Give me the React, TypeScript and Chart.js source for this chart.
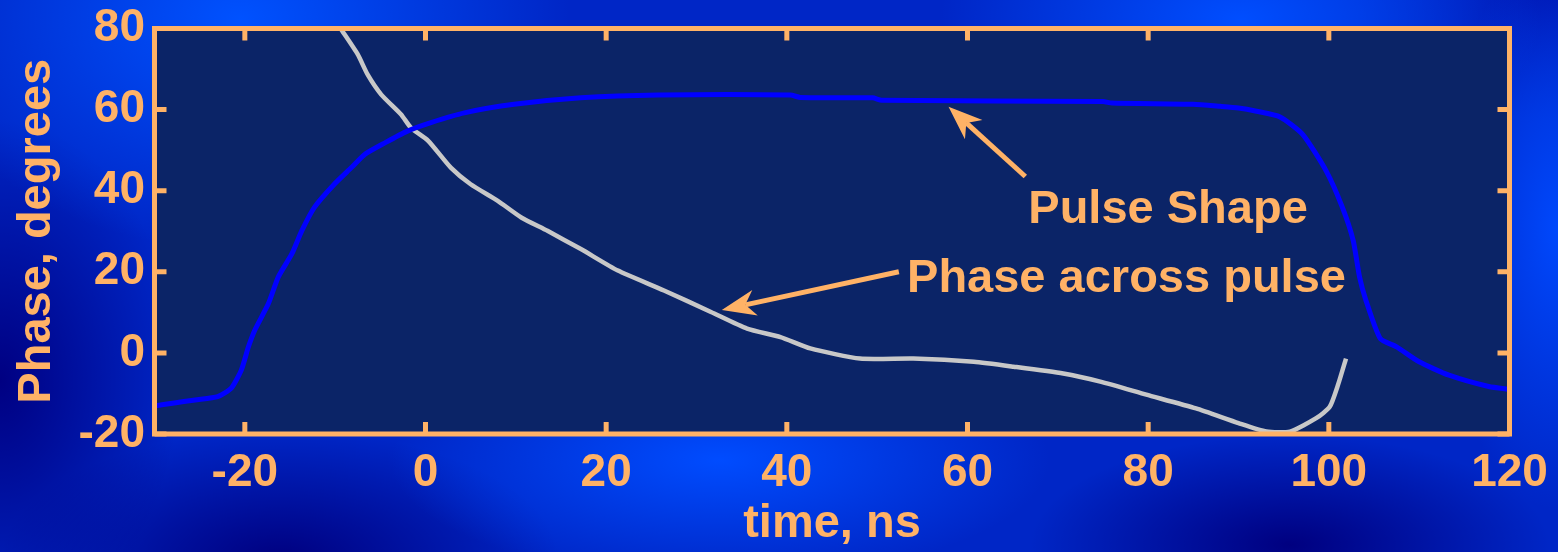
import React, { useEffect, useRef } from "react";
import { Chart, registerables } from "chart.js";

Chart.register(...registerables);

// ---- data ----
const pulseTime = [-30, -28, -25.5, -23, -21.5, -20.4, -19.6, -18.9, -17.4, -16.3, -14.8, -13.7, -12.3, -10.1, -8.2, -6.7, -4.5, -2, 0.6, 4.3, 9.8, 17.2, 25.7, 40.4, 41.5, 49.5, 50.5, 75, 76, 85, 88, 90, 92, 94.6, 97.1, 99.7, 101.5, 102.7, 103.4, 104.1, 105.7, 107.5, 110, 113.3, 117.7, 120];
const pulseValue = [-13.1, -12.4, -11.6, -10.8, -8.7, -4.3, 1.5, 5.6, 12.1, 18.7, 24.4, 30.1, 35.9, 41.6, 45.7, 49, 51.8, 54.7, 56.8, 59.2, 61.3, 62.9, 63.6, 63.6, 63.0, 62.9, 62.3, 62.0, 61.6, 61.3, 60.8, 60.4, 59.6, 58.2, 53.9, 44.9, 35.9, 27.7, 18.7, 13, 3.5, 1.5, -2.2, -5.5, -8.3, -9];

const phaseTime = [-9.4, -7.5, -6.4, -4.9, -2.7, -1.6, 0.3, 2.8, 5, 8, 10.6, 13.5, 17.2, 21.3, 26.4, 31.6, 35.6, 39.3, 42.6, 48.1, 54, 60.7, 65.1, 70.6, 74.7, 79.8, 85.3, 90, 93.1, 95.7, 98.6, 100.1, 101, 101.9];
const phaseValue = [80, 73.6, 68.6, 63.7, 58.8, 55.5, 52.3, 45.7, 41.6, 37.5, 33.4, 30.1, 25.6, 20.3, 15.4, 10.1, 6, 3.9, 1.1, -1.4, -1.4, -2.2, -3.4, -5.1, -7.1, -10.3, -13.7, -17.3, -19.4, -19.4, -16.1, -13.3, -8, -1.4];

const xTickValues = [-20, 0, 20, 40, 60, 80, 100, 120];
const yTickValues = [-20, 0, 20, 40, 60, 80];

const xTitle = "time, ns";
const yTitle = "Phase, degrees";
const pulseLabel = "Pulse Shape";
const phaseLabel = "Phase across pulse";

// ---- styles ----
const ORANGE = "#FFB266";
const PLOT_BG = "#0B2467";
const FONT = "'Liberation Sans', Arial, Helvetica, sans-serif";

// annotation anchors in data coordinates
const annotations = [
  { text: pulseLabel, textX: 82.2, textY: 32.0, tailX: 66.4, tailY: 43.5, tipX: 57.9, tipY: 60.7 },
  { text: phaseLabel, textX: 77.6, textY: 15.1, tailX: 52.4, tailY: 20.0, tipX: 32.8, tipY: 10.6 },
];

const framePlugin = {
  id: "frame",
  beforeDraw(chart: any) {
    const { ctx, chartArea: a } = chart;
    ctx.save();
    ctx.fillStyle = PLOT_BG;
    ctx.fillRect(a.left, a.top, a.right - a.left, a.bottom - a.top);
    ctx.restore();
  },
  afterDatasetsDraw(chart: any) {
    const { ctx, chartArea: a, scales } = chart;
    const xs = scales.x;
    const ys = scales.y;
    ctx.save();
    ctx.strokeStyle = ORANGE;
    ctx.lineWidth = 5;
    ctx.lineCap = "butt";
    const tl = 12;
    ctx.beginPath();
    xTickValues.forEach((v) => {
      const px = xs.getPixelForValue(v);
      ctx.moveTo(px, a.bottom);
      ctx.lineTo(px, a.bottom - tl);
      ctx.moveTo(px, a.top);
      ctx.lineTo(px, a.top + tl);
    });
    yTickValues.forEach((v) => {
      const py = ys.getPixelForValue(v);
      ctx.moveTo(a.left, py);
      ctx.lineTo(a.left + tl, py);
      ctx.moveTo(a.right, py);
      ctx.lineTo(a.right - tl, py);
    });
    ctx.stroke();
    ctx.strokeRect(a.left, a.top, a.right - a.left, a.bottom - a.top);

    // annotations
    ctx.fillStyle = ORANGE;
    ctx.font = `bold 47px ${FONT}`;
    ctx.textAlign = "center";
    ctx.textBaseline = "alphabetic";
    annotations.forEach((an) => {
      ctx.fillText(an.text, xs.getPixelForValue(an.textX), ys.getPixelForValue(an.textY));
      const tx = xs.getPixelForValue(an.tailX);
      const ty = ys.getPixelForValue(an.tailY);
      const hx = xs.getPixelForValue(an.tipX);
      const hy = ys.getPixelForValue(an.tipY);
      const len = Math.hypot(hx - tx, hy - ty);
      const dx = (hx - tx) / len;
      const dy = (hy - ty) / len;
      const nx = -dy;
      const ny = dx;
      const L = 34;
      const W = 13;
      const notch = 24;
      ctx.lineWidth = 5;
      ctx.beginPath();
      ctx.moveTo(tx, ty);
      ctx.lineTo(hx - dx * notch, hy - dy * notch);
      ctx.stroke();
      ctx.beginPath();
      ctx.moveTo(hx, hy);
      ctx.lineTo(hx - dx * L + nx * W, hy - dy * L + ny * W);
      ctx.lineTo(hx - dx * notch, hy - dy * notch);
      ctx.lineTo(hx - dx * L - nx * W, hy - dy * L - ny * W);
      ctx.closePath();
      ctx.fill();
    });
    ctx.restore();
  },
};

export default function App() {
  const canvasRef = useRef<HTMLCanvasElement | null>(null);

  useEffect(() => {
    document.body.style.margin = "0";
    const canvas = canvasRef.current;
    if (!canvas) return;
    const chart = new Chart(canvas, {
      type: "line",
      data: {
        datasets: [
          {
            label: pulseLabel,
            data: pulseTime.map((t, i) => ({ x: t, y: pulseValue[i] })),
            borderColor: "#0000FF",
            borderWidth: 5,
            pointRadius: 0,
            tension: 0.2,
            fill: false,
          },
          {
            label: phaseLabel,
            data: phaseTime.map((t, i) => ({ x: t, y: phaseValue[i] })),
            borderColor: "#C8C8C8",
            borderWidth: 4.5,
            pointRadius: 0,
            tension: 0.2,
            fill: false,
          },
        ],
      },
      options: {
        animation: false,
        responsive: false,
        devicePixelRatio: 1,
        layout: { padding: { left: 0, top: 28.5, right: 48.5, bottom: 0 } },
        plugins: {
          legend: { display: false },
          tooltip: { enabled: false },
        },
        scales: {
          x: {
            type: "linear",
            position: "bottom",
            min: -30,
            max: 120,
            afterBuildTicks: (s: any) => {
              s.ticks = xTickValues.map((v) => ({ value: v }));
            },
            afterFit: (s: any) => {
              s.height = 118;
              s.paddingLeft = 0;
              s.paddingRight = 0;
            },
            grid: { display: false, drawTicks: false },
            border: { display: false },
            ticks: {
              color: ORANGE,
              font: { family: FONT, size: 46, weight: "bold" },
              padding: 12,
              maxRotation: 0,
              autoSkip: false,
            },
            title: {
              display: true,
              text: xTitle,
              color: ORANGE,
              font: { family: FONT, size: 47, weight: "bold" },
              padding: { top: 0, bottom: 0 },
            },
          },
          y: {
            type: "linear",
            position: "left",
            min: -20,
            max: 80,
            afterBuildTicks: (s: any) => {
              s.ticks = yTickValues.map((v) => ({ value: v }));
            },
            afterFit: (s: any) => {
              s.width = 154.5;
              s.paddingTop = 0;
              s.paddingBottom = 0;
            },
            grid: { display: false, drawTicks: false },
            border: { display: false },
            ticks: {
              color: ORANGE,
              font: { family: FONT, size: 46, weight: "bold" },
              padding: 9.5,
              autoSkip: false,
            },
            title: {
              display: true,
              text: yTitle,
              color: ORANGE,
              font: { family: FONT, size: 47, weight: "bold" },
              padding: { top: 9, bottom: 0 },
            },
          },
        },
      },
      plugins: [framePlugin],
    } as any);
    return () => chart.destroy();
  }, []);

  const bg = [
    "radial-gradient(ellipse 330px 230px at 240px 20px, rgba(0,82,255,1), rgba(0,82,255,0))",
    "radial-gradient(ellipse 300px 160px at 1240px 20px, rgba(0,78,255,1), rgba(0,78,255,0))",
    "radial-gradient(ellipse 120px 280px at 1558px 230px, rgba(0,72,252,1), rgba(0,72,252,0))",
    "radial-gradient(ellipse 330px 120px at 720px 460px, rgba(0,76,255,1), rgba(0,76,255,0))",
    "radial-gradient(ellipse 180px 260px at 0px 380px, rgba(0,0,130,1), rgba(0,0,130,0))",
    "radial-gradient(ellipse 280px 130px at 280px 560px, rgba(0,0,128,1), rgba(0,0,128,0))",
    "radial-gradient(ellipse 260px 110px at 1290px 545px, rgba(0,0,128,1), rgba(0,0,128,0))",
    "radial-gradient(ellipse 200px 120px at 1558px 0px, rgba(0,20,175,1), rgba(0,20,175,0))",
    "#0026c6",
  ].join(", ");

  return (
    <div
      style={{
        position: "absolute",
        left: 0,
        top: 0,
        width: 1558,
        height: 552,
        background: bg,
        overflow: "hidden",
      }}
    >
      <canvas ref={canvasRef} width={1558} height={552} style={{ display: "block", width: 1558, height: 552 }} />
    </div>
  );
}
